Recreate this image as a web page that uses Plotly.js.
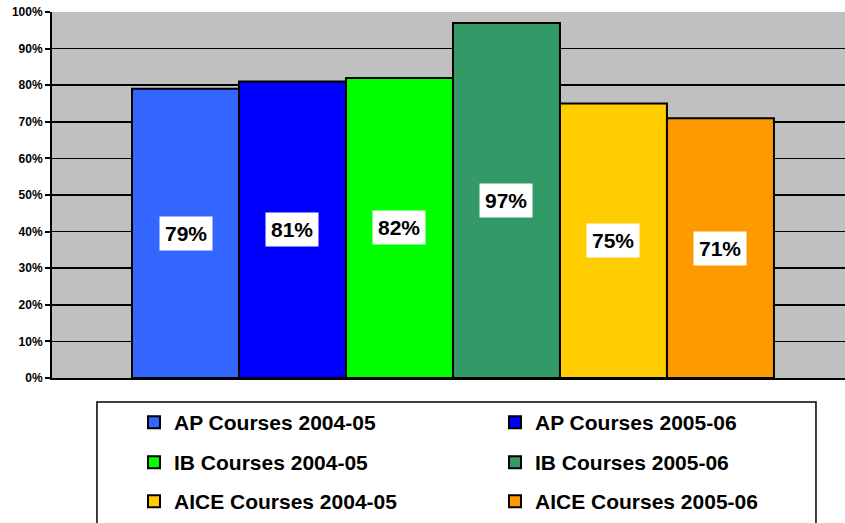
<!DOCTYPE html>
<html>
<head>
<meta charset="utf-8">
<script src="https://cdn.plot.ly/plotly-3.0.1.min.js"></script>
<style>html,body{margin:0;padding:0;background:#fff;}#chart{width:845px;height:523px;}</style>
</head>
<body>
<div id="chart"></div>
<script>
const categories = ["AP Courses 2004-05", "AP Courses 2005-06", "IB Courses 2004-05", "IB Courses 2005-06", "AICE Courses 2004-05", "AICE Courses 2005-06"];
const values = [79, 81, 82, 97, 75, 71];
const colors = ["#3366FF", "#0000FF", "#00FF00", "#339966", "#FFCC00", "#FF9900"];
const yTicks = [0, 10, 20, 30, 40, 50, 60, 70, 80, 90, 100];

const FONT = "Liberation Sans, Arial, sans-serif";
const legendIds = ["legend", "legend2", "legend3"];

const traces = categories.map((c, i) => ({
  type: "bar",
  x: [c],
  y: [values[i]],
  name: c,
  marker: {color: colors[i], line: {color: "#000", width: 2}},
  legend: legendIds[Math.floor(i / 2)],
  hoverinfo: "skip"
}));

const annotations = categories.map((c, i) => ({
  xref: "x", yref: "y",
  x: c, y: values[i] / 2,
  text: values[i] + "%",
  showarrow: false,
  bgcolor: "#FFFFFF",
  borderpad: 5,
  font: {family: FONT, size: 21, weight: 700, color: "#000"}
}));

function legendCfg(y) {
  return {
    orientation: "h",
    x: 0.1034, xanchor: "left",
    y: y, yanchor: "middle",
    bgcolor: "rgba(0,0,0,0)",
    borderwidth: 0,
    entrywidth: 316,
    entrywidthmode: "pixels",
    font: {family: FONT, size: 21, weight: 700, color: "#000"},
    itemclick: false, itemdoubleclick: false
  };
}

const layout = {
  width: 845, height: 523,
  margin: {l: 52, r: 0, t: 12, b: 145, autoexpand: false},
  paper_bgcolor: "#FFFFFF",
  plot_bgcolor: "#C0C0C0",
  barmode: "overlay",
  bargap: 0,
  showlegend: true,
  xaxis: {
    type: "category",
    categoryorder: "array",
    categoryarray: categories,
    range: [-1.2477, 6.164],
    showticklabels: false,
    ticks: "",
    showgrid: false,
    zeroline: false,
    showline: true, linecolor: "#000", linewidth: 2,
    fixedrange: true
  },
  yaxis: {
    range: [0, 100],
    tickvals: yTicks,
    ticktext: yTicks.map(v => v + "%"),
    showgrid: true, gridcolor: "#000", gridwidth: 1.5,
    zeroline: false,
    showline: true, linecolor: "#000", linewidth: 2,
    ticks: "outside", ticklen: 5, tickwidth: 2, tickcolor: "#000",
    tickfont: {family: FONT, size: 12, weight: 700, color: "#000"},
    fixedrange: true
  },
  legend: legendCfg(-0.1216),
  legend2: legendCfg(-0.2309),
  legend3: legendCfg(-0.3374),
  annotations: annotations,
  shapes: [{
    type: "rect", xref: "paper", yref: "paper",
    x0: 0.0567, x1: 0.9634, y0: -0.42, y1: -0.0656,
    line: {color: "#000", width: 1.5},
    fillcolor: "rgba(0,0,0,0)",
    layer: "below"
  }]
};

Plotly.newPlot("chart", traces, layout, {displayModeBar: false, staticPlot: true});
</script>
</body>
</html>
